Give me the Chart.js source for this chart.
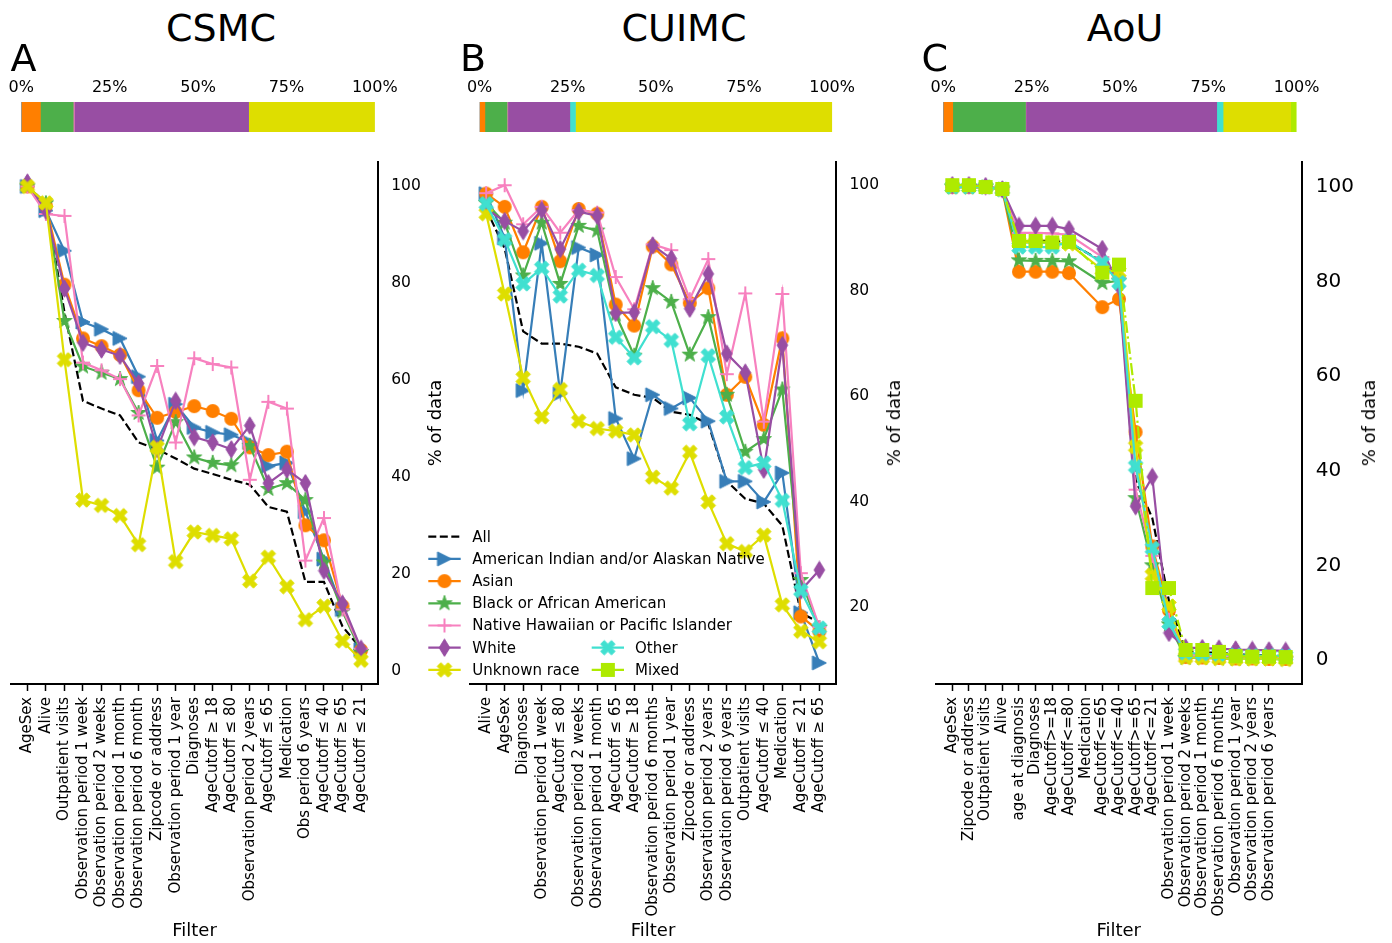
<!DOCTYPE html>
<html><head><meta charset="utf-8"><title>Filter attrition by race</title>
<script src="https://cdn.jsdelivr.net/npm/chart.js@4.4.1/dist/chart.umd.min.js"></script>
<style>
html,body{margin:0;padding:0;background:#fff;}
body{width:1392px;height:943px;position:relative;overflow:hidden;font-family:"DejaVu Sans",sans-serif;color:#000;}
canvas{position:absolute;}
.t{position:absolute;white-space:nowrap;line-height:1;color:#000;}
.big{font-size:38px;}
.ctr{transform:translateX(-50%);}
.ylab{font-size:18px;transform:translate(-50%,-50%) rotate(-90deg);}
.xlab{font-size:18px;transform:translateX(-50%);}
.leg{font-size:15px;}
</style></head><body>
<canvas id="barA" width="460" height="80" style="left:0px;top:60px"></canvas>
<canvas id="barB" width="460" height="80" style="left:460px;top:60px"></canvas>
<canvas id="barC" width="472" height="80" style="left:920px;top:60px"></canvas>
<canvas id="lineA" width="480" height="793" style="left:0px;top:150px"></canvas>
<canvas id="lineB" width="480" height="793" style="left:440px;top:150px"></canvas>
<canvas id="lineC" width="472" height="793" style="left:920px;top:150px"></canvas>
<canvas id="legendSym" width="220" height="170" style="left:420px;top:520px"></canvas>

<div class="t big ctr" style="left:221px;top:9px">CSMC</div>
<div class="t big ctr" style="left:684px;top:9px">CUIMC</div>
<div class="t big ctr" style="left:1125px;top:9px">AoU</div>
<div class="t big" style="left:10.4px;top:38.6px">A</div>
<div class="t big" style="left:460px;top:38.6px">B</div>
<div class="t big" style="left:921.5px;top:38.6px">C</div>
<div class="t xlab" style="left:194.5px;top:921px">Filter</div>
<div class="t xlab" style="left:653px;top:921px">Filter</div>
<div class="t xlab" style="left:1118.7px;top:921px">Filter</div>
<div class="t ylab" style="left:435px;top:423px">% of data</div>
<div class="t ylab" style="left:893.5px;top:423px">% of data</div>
<div class="t ylab" style="left:1368.5px;top:423px">% of data</div>
<div id="legendText"></div>

<script>
// ===================== DATA =====================
const raceKeys  = ["All","AIAN","Asian","Black","NHPI","White","Unknown","Other","Mixed"];
const raceNames = ["All","American Indian and/or Alaskan Native","Asian","Black or African American","Native Hawaiian or Pacific Islander","White","Unknown race","Other","Mixed"];
const compositionKeys = ["AIAN","Asian","Black","NHPI","White","Other","Unknown","Mixed"];
const percentTicks = [0,25,50,75,100];
const yTickValues = [0,20,40,60,80,100];

// ---- CSMC (A) ----
const csmcFilters = ["AgeSex","Alive","Outpatient visits","Observation period 1 week","Observation period 2 weeks","Observation period 1 month","Observation period 6 month","Zipcode or address","Observation period 1 year","Diagnoses","AgeCutoff ≥ 18","AgeCutoff ≤ 80","Observation period 2 years","AgeCutoff ≤ 65","Medication","Obs period 6 years","AgeCutoff ≤ 40","AgeCutoff ≥ 65","AgeCutoff ≤ 21"];
const csmcAll     = [100, 96.5, 74, 55.7, 54.1, 52.7, 47.1, 45.7, 43.8, 41.7, 40.6, 39.4, 38.4, 33.8, 32.8, 18.3, 18.3, 9.1, 4.5];
const csmcAIAN    = [100, 95, 86.7, 72, 70.5, 68.6, 60.7, 47.5, 55, 50.2, 49.2, 48.7, 47.1, 42.2, 42.9, 32.8, 23, 12.6, 4.3];
const csmcAsian   = [100, 96, 79.7, 68.6, 67, 65.2, 57.9, 52.2, 53.4, 54.6, 53.6, 52, 46.1, 44.5, 45.2, 30, 26.9, 13.3, 4.2];
const csmcBlack   = [100, 96.5, 72.2, 62.8, 61.5, 60.2, 53.2, 41.9, 51.3, 44, 42.9, 42.4, 46.4, 37.5, 38.7, 35.2, 22.3, 12.2, 3.8];
const csmcNHPI    = [100, 94.3, 93.9, 63.6, 62, 60.2, 52.7, 62.9, 47.1, 64.5, 63.3, 62.6, 39.4, 55.5, 54.1, 22.7, 31.5, 12.6, 4.5];
const csmcWhite   = [100.8, 95, 78.9, 67.7, 66.3, 65, 59.3, 45.7, 55.7, 48.2, 47.1, 45.7, 50.6, 38.7, 41.5, 38.7, 20.6, 13.8, 4.5];
const csmcUnknown = [100, 96.6, 64.2, 35.2, 34.1, 32, 26, 46.1, 22.5, 28.6, 27.9, 27.2, 18.5, 23.4, 17.3, 10.5, 13.3, 6.1, 2.1];
const csmcComposition = [0, 5.4, 9.3, 0.3, 49.3, 0, 35.7, 0];   // % per compositionKeys

// ---- CUIMC (B) ----
const cuimcFilters = ["Alive","AgeSex","Diagnoses","Observation period 1 week","AgeCutoff ≤ 80","Observation period 2 weeks","Observation period 1 month","AgeCutoff ≤ 65","AgeCutoff ≥ 18","Observation period 6 months","Observation period 1 year","Zipcode or address","Observation period 2 years","Observation period 6 years","Outpatient visits","AgeCutoff ≤ 40","Medication","AgeCutoff ≤ 21","AgeCutoff ≥ 65"];
const cuimcAll     = [95.5, 88, 72.3, 70, 70, 69.4, 68.1, 61.7, 60.3, 59.7, 57.1, 56.5, 54.8, 43.9, 40.6, 39.7, 35.5, 19, 17.1];
const cuimcAIAN    = [98.4, 90, 61.1, 89, 60.5, 88.2, 86.8, 55.8, 48.2, 60.3, 57.7, 59.7, 55.3, 43.9, 43.9, 40, 45.5, 19, 9.5];
const cuimcAsian   = [98.4, 95.9, 87.3, 95.9, 85.6, 95.5, 94.6, 77.4, 73.4, 88.4, 85, 77.7, 80.5, 60.3, 63.7, 54.6, 71, 18.3, 15.5];
const cuimcBlack   = [96.6, 92.9, 82.9, 92.9, 81.3, 92.3, 91.4, 75.5, 67.7, 80.5, 77.9, 67.9, 75, 60.3, 49.5, 51.9, 61.3, 25.2, 16.1];
const cuimcNHPI    = [98.5, 100, 92.6, 95.9, 91, 95.3, 94.8, 82.6, 76.5, 88.8, 87.7, 78.4, 86, 64.2, 79.5, 55.2, 79.4, 26.5, 16.3];
const cuimcWhite   = [95.5, 93.2, 91.3, 95.3, 87.9, 95, 94.2, 75.8, 75.9, 88.6, 86.1, 76.6, 83.2, 68.1, 64.5, 46.1, 69.7, 23.2, 27.1];
const cuimcUnknown = [94.6, 79.4, 63.5, 56.1, 61.3, 55.3, 53.9, 53.4, 52.7, 44.7, 42.6, 49.4, 40, 32.1, 30.6, 33.7, 20.5, 15.5, 13.5];
const cuimcOther   = [96.5, 89.7, 81.3, 84.3, 79, 83.9, 82.9, 71.2, 67.3, 73.2, 70.6, 54.8, 67.7, 56.1, 46.5, 47.4, 40.3, 23.2, 16.1];
const cuimcComposition = [0, 1.5, 6.3, 0.2, 17.6, 1.6, 72.8, 0];

// ---- AoU (C) ----
const aouFilters = ["AgeSex","Zipcode or address","Outpatient visits","Alive","age at diagnosis","Diagnoses","AgeCutoff>=18","AgeCutoff<=80","Medication","AgeCutoff<=65","AgeCutoff<=40","AgeCutoff>=65","AgeCutoff<=21","Observation period 1 week","Observation period 2 weeks","Observation period 1 month","Observation period 6 months","Observation period 1 year","Observation period 2 years","Observation period 6 years"];
const aouAll     = [100, 100, 100, 99.6, 88.6, 88.6, 88.6, 88.3, null, 84.2, 80.5, 38, 30, 12.5, 1.8, 1.6, 1.5, 1.2, 1.0, 0.9, 0.8];
const aouAsian   = [100, 100, 100, 99.5, 82.1, 82.1, 82.1, 81.8, null, 74.6, 76.3, 48.2, 24, 10.5, 0.6, 0.5, 0.4, 0.3, 0.3, 0.2, 0.2];
const aouBlack   = [100, 100, 100, 99.5, 84.5, 84.4, 84.4, 84.3, null, 79.7, 80.2, 34.2, 20, 7.5, 0.4, 0.4, 0.3, 0.2, 0.2, 0.2, 0.1];
const aouNHPI    = [100, 100, 100, 99.5, 90.3, 90.3, 90.2, 89.9, null, 85.2, 80.8, 36, 22, 8.5, 1.2, 1.0, 1.0, 0.8, 0.7, 0.7, 0.6];
const aouWhite   = [100.4, 100.4, 100.2, 99.5, 91.8, 91.8, 91.8, 91.1, null, 86.9, 79, 32.5, 38.7, 5.7, 2.6, 2.5, 2.4, 2.2, 2.1, 2.0, 1.9];
const aouUnknown = [100, 100, 100, 99.5, 88.3, 88.2, 88.2, 88.0, null, 82.5, 82, 45.1, 17.9, 11.4, 0.5, 0.4, 0.3, 0.2, 0.2, 0.2, 0.1];
const aouOther   = [100, 100, 100, 99.5, 87.3, 87.3, 87.3, 88.5, null, 84, 79.8, 40.9, 23.6, 7.8, 1.5, 1.3, 1.2, 1.0, 0.9, 0.9, 0.8];
const aouMixed   = [100.4, 100.4, 100, 99.6, 88.6, 88.6, 88.3, 88.4, null, 81.9, 83.6, 54.8, 15.2, 15.2, 2.1, 2.1, 1.7, 0.8, 0.7, 0.7, 0.6];
const aouComposition = [0, 2.7, 20.6, 0.1, 54.0, 1.8, 19.1, 1.7];

// ===================== STYLE =====================
const STYLE = {
  All:     {color:'#000000', marker:null, dash:[8,3.5]},
  AIAN:    {color:'#377eb8', marker:'>'},
  Asian:   {color:'#ff7f00', marker:'o'},
  Black:   {color:'#4daf4a', marker:'*'},
  NHPI:    {color:'#f781bf', marker:'+'},
  White:   {color:'#984ea3', marker:'d'},
  Unknown: {color:'#dede00', marker:'X'},
  Other:   {color:'#40e0d0', marker:'X'},
  Mixed:   {color:'#aeea00', marker:'s', dash:[12,3.5,2.2,3.5]}
};

function makeMarker(kind, color) {
  let w = 18, h = 18;
  if (kind === 'd') { w = 13; h = 19; }
  const c = document.createElement('canvas');
  c.width = w; c.height = h;
  const g = c.getContext('2d');
  g.fillStyle = color; g.strokeStyle = color; g.lineWidth = 1; g.lineJoin = 'miter';
  const cx = w / 2, cy = h / 2;
  g.beginPath();
  if (kind === '>') {
    g.moveTo(cx + 7, cy); g.lineTo(cx - 7, cy - 7); g.lineTo(cx - 7, cy + 7); g.closePath(); g.fill(); g.stroke();
  } else if (kind === 'o') {
    g.arc(cx, cy, 7, 0, Math.PI * 2); g.fill();
  } else if (kind === '*') {
    const R = 8, r = R * 0.382;
    for (let i = 0; i < 10; i++) {
      const rad = (i % 2 === 0) ? R : r;
      const a = -Math.PI / 2 + i * Math.PI / 5;
      const px = cx + rad * Math.cos(a), py = cy + rad * Math.sin(a);
      if (i === 0) g.moveTo(px, py); else g.lineTo(px, py);
    }
    g.closePath(); g.fill(); g.stroke();
  } else if (kind === '+') {
    g.lineWidth = 2;
    g.moveTo(cx - 7, cy); g.lineTo(cx + 7, cy); g.moveTo(cx, cy - 7); g.lineTo(cx, cy + 7); g.stroke();
  } else if (kind === 'd') {
    g.moveTo(cx, 0.8); g.lineTo(w - 1.2, cy); g.lineTo(cx, h - 0.8); g.lineTo(1.2, cy); g.closePath(); g.fill(); g.stroke();
  } else if (kind === 'X') {
    const s = 3.6;
    const pts = [[-1,-2],[0,-1],[1,-2],[2,-1],[1,0],[2,1],[1,2],[0,1],[-1,2],[-2,1],[-1,0],[-2,-1]];
    pts.forEach((p, i) => { const px = cx + p[0] * s, py = cy + p[1] * s; if (i === 0) g.moveTo(px, py); else g.lineTo(px, py); });
    g.closePath(); g.fill(); g.stroke();
  } else if (kind === 's') {
    g.rect(cx - 7, cy - 7, 14, 14); g.fill();
  }
  return c;
}
const MARKERS = {};
raceKeys.forEach(k => { if (STYLE[k].marker) MARKERS[k] = makeMarker(STYLE[k].marker, STYLE[k].color); });

Chart.defaults.font.family = '"DejaVu Sans", sans-serif';
Chart.defaults.color = '#000';
Chart.defaults.animation = false;

// ===================== COMPOSITION BARS =====================
function makeBar(id, composition, padLeft, padRight) {
  const datasets = compositionKeys.map((k, i) => ({
    label: k, data: [composition[i]], backgroundColor: STYLE[k].color,
    borderWidth: 0, barPercentage: 1, categoryPercentage: 1
  }));
  new Chart(document.getElementById(id), {
    type: 'bar',
    data: { labels: [''], datasets },
    options: {
      responsive: false, indexAxis: 'y', events: [],
      layout: { padding: { left: padLeft, right: padRight, top: 0, bottom: 8 } },
      plugins: { legend: { display: false }, tooltip: { enabled: false } },
      scales: {
        x: {
          stacked: true, position: 'top', min: 0, max: 100,
          afterBuildTicks: s => { s.ticks = percentTicks.map(v => ({ value: v })); },
          afterFit: s => { s.height = 42; s.paddingLeft = 0; s.paddingRight = 0; },
          ticks: { font: { size: 16 }, padding: 5, maxRotation: 0, callback: v => v + '%' },
          grid: { display: false, drawTicks: false },
          border: { display: false }
        },
        y: { stacked: true, display: false }
      }
    }
  });
}
makeBar('barA', csmcComposition, 21.3, 85.2);
makeBar('barB', cuimcComposition, 19.6, 87.9);
makeBar('barC', aouComposition, 23.2, 95.4);

// ===================== LINE PANELS =====================
function makeLine(id, filters, seriesMap, xMin, xMax, yMin, yMax, padLeft, yWidth, yFont, gaps) {
  const keys = raceKeys.filter(k => seriesMap[k]);
  const datasets = keys.map((k, i) => {
    const st = STYLE[k];
    return {
      label: k,
      data: seriesMap[k].map((v, j) => ({ x: j, y: v })),
      borderColor: st.color, backgroundColor: st.color,
      borderWidth: 2.2, borderDash: st.dash || [],
      pointStyle: st.marker ? MARKERS[k] : 'circle',
      pointRadius: st.marker ? 7 : 0, pointHoverRadius: st.marker ? 7 : 0,
      tension: 0, spanGaps: gaps, clip: false, order: -i
    };
  });
  new Chart(document.getElementById(id), {
    type: 'line',
    data: { datasets },
    options: {
      responsive: false, events: [],
      layout: { padding: { left: padLeft, top: 12, right: 0, bottom: 0 } },
      plugins: { legend: { display: false }, tooltip: { enabled: false } },
      scales: {
        x: {
          type: 'linear', position: 'bottom', min: xMin, max: xMax,
          afterBuildTicks: s => { s.ticks = filters.map((f, i) => ({ value: i })); },
          afterFit: s => { s.height = 259; s.paddingLeft = 0; s.paddingRight = 0; },
          ticks: { autoSkip: false, maxRotation: 90, minRotation: 90, padding: 6, font: { size: 15 },
                   callback: v => (filters[v] !== undefined ? filters[v] : '') },
          grid: { display: true, drawOnChartArea: false, drawTicks: true, tickLength: 7, tickWidth: 1.5, tickColor: '#000' },
          border: { display: true, color: '#000', width: 2 }
        },
        y: {
          type: 'linear', position: 'right', min: yMin, max: yMax,
          afterBuildTicks: s => { s.ticks = yTickValues.filter(v => v >= yMin && v <= yMax).map(v => ({ value: v })); },
          afterFit: s => { s.width = yWidth; s.paddingTop = 0; s.paddingBottom = 0; },
          ticks: { padding: 13.5, font: { size: yFont }, callback: v => String(v) },
          grid: { display: true, drawOnChartArea: false, drawTicks: false },
          border: { display: true, color: '#000', width: 2 }
        }
      }
    }
  });
}

makeLine('lineA', csmcFilters,
  { All: csmcAll, AIAN: csmcAIAN, Asian: csmcAsian, Black: csmcBlack, NHPI: csmcNHPI, White: csmcWhite, Unknown: csmcUnknown },
  -0.9, 18.9, -2.79, 105.04, 10.7, 102.3, 15.5, false);
makeLine('lineB', cuimcFilters,
  { All: cuimcAll, AIAN: cuimcAIAN, Asian: cuimcAsian, Black: cuimcBlack, NHPI: cuimcNHPI, White: cuimcWhite, Unknown: cuimcUnknown, Other: cuimcOther },
  -0.9, 18.9, 5.5, 104.4, 29.5, 84, 15.5, false);
makeLine('lineC', aouFilters,
  { All: aouAll, Asian: aouAsian, Black: aouBlack, NHPI: aouNHPI, White: aouWhite, Unknown: aouUnknown, Other: aouOther, Mixed: aouMixed },
  -1, 21, -5.1, 105.3, 15.6, 89.7, 20, true);

// ===================== LEGEND =====================
(function () {
  const cv = document.getElementById('legendSym');
  const g = cv.getContext('2d');
  const ox = 420, oy = 520;
  const entries = [
    { k: 'All', col: 0, row: 0 }, { k: 'AIAN', col: 0, row: 1 }, { k: 'Asian', col: 0, row: 2 },
    { k: 'Black', col: 0, row: 3 }, { k: 'NHPI', col: 0, row: 4 }, { k: 'White', col: 0, row: 5 },
    { k: 'Unknown', col: 0, row: 6 }, { k: 'Other', col: 1, row: 5 }, { k: 'Mixed', col: 1, row: 6 }
  ];
  const cols = [{ x1: 428.3, x2: 460.7, tx: 472.3 }, { x1: 591.7, x2: 624, tx: 635 }];
  const holder = document.getElementById('legendText');
  entries.forEach(e => {
    const st = STYLE[e.k];
    const c = cols[e.col];
    const y = 536.7 + 22.2 * e.row;
    g.save();
    g.strokeStyle = st.color; g.lineWidth = 2.2; g.setLineDash(st.dash || []);
    g.beginPath(); g.moveTo(c.x1 - ox, y - oy); g.lineTo(c.x2 - ox, y - oy); g.stroke();
    g.restore();
    if (MARKERS[e.k]) {
      const m = MARKERS[e.k];
      g.drawImage(m, (c.x1 + c.x2) / 2 - ox - m.width / 2, y - oy - m.height / 2);
    }
    const d = document.createElement('div');
    d.className = 't leg';
    d.style.left = c.tx + 'px';
    d.style.top = (y - 7.2) + 'px';
    d.textContent = raceNames[raceKeys.indexOf(e.k)];
    holder.appendChild(d);
  });
})();
</script>
</body></html>
